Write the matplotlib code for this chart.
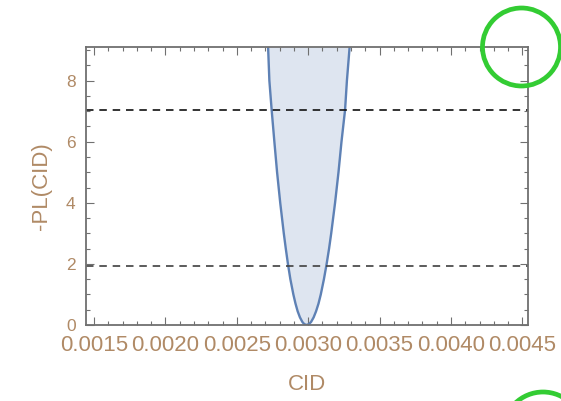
import matplotlib
matplotlib.use("Agg")
import matplotlib.pyplot as plt
from matplotlib.patches import Circle
from matplotlib.ticker import MultipleLocator, FixedLocator

# ---- data ----
cid = [0.002719, 0.002728, 0.002744, 0.002763, 0.002782, 0.002804, 0.002829,
       0.002843, 0.002858, 0.002875, 0.002896, 0.002911, 0.002926, 0.002942,
       0.002959, 0.002972, 0.002988,
       0.003005, 0.003020, 0.003038, 0.003055, 0.003072, 0.003088, 0.003110,
       0.003129, 0.003146, 0.003161, 0.003188, 0.003212, 0.003233, 0.003258,
       0.003271, 0.003290]
neg_pl = [9.10, 8.00, 7.04, 6.00, 5.00, 4.00, 3.00,
          2.50, 2.00, 1.50, 1.00, 0.70, 0.45, 0.25,
          0.10, 0.03, 0.00,
          0.03, 0.10, 0.25, 0.45, 0.70, 1.00, 1.50,
          2.00, 2.50, 3.00, 4.00, 5.00, 6.00, 7.04,
          8.00, 9.10]
threshold_levels = [1.92, 7.04]
x_ticks = [0.0015, 0.0020, 0.0025, 0.0030, 0.0035, 0.0040, 0.0045]
x_tick_labels = ["0.0015", "0.0020", "0.0025", "0.0030", "0.0035", "0.0040", "0.0045"]
y_ticks = [0, 2, 4, 6, 8]
x_label = "CID"
y_label = "-PL(CID)"

# ---- style ----
plt.rcParams['font.family'] = ['Liberation Sans', 'DejaVu Sans']
line_color = '#5E81B5'
text_color = '#b08a66'
frame_color = '#707070'

W, H = 561, 401
fig = plt.figure(figsize=(W / 100, H / 100), dpi=100)
L, R, T, B = 86, 528, 47, 325
ax = fig.add_axes([L / W, 1 - B / H, (R - L) / W, (B - T) / H])

ax.set_xlim(0.001444, 0.004539)
ax.set_ylim(0, 9.1)

top = ax.get_ylim()[1]
ax.fill_between(cid, neg_pl, top, color=line_color, alpha=0.2, linewidth=0)
ax.plot(cid, neg_pl, color=line_color, lw=1.7, solid_joinstyle='round')
for lev, col in zip(threshold_levels, ['#404040', '#111111']):
    ax.axhline(lev, color=col, lw=1.2, ls=(0, (4.5, 3.5)))

ax.xaxis.set_major_locator(FixedLocator(x_ticks))
ax.set_xticklabels(x_tick_labels)
ax.xaxis.set_minor_locator(MultipleLocator(0.0001))
ax.yaxis.set_major_locator(FixedLocator(y_ticks))
ax.yaxis.set_minor_locator(MultipleLocator(0.5))

ax.tick_params(which='both', direction='in', top=True, right=True,
               color=frame_color, width=0.8)
ax.tick_params(which='major', length=5.5)
ax.tick_params(which='minor', length=3.2)
ax.tick_params(axis='x', which='major', labelsize=16, labelcolor=text_color, pad=7)
ax.tick_params(axis='y', which='major', labelsize=12.5, labelcolor=text_color, pad=7.5)

for s in ax.spines.values():
    s.set_color(frame_color)
    s.set_linewidth(1.3)

ax.set_xlabel(x_label, fontsize=16, color=text_color, labelpad=13)
ax.set_ylabel(y_label, fontsize=16, color=text_color, labelpad=10)

# overlay annotation circles (green) in pixel coordinates
ov = fig.add_axes([0, 0, 1, 1], facecolor='none')
ov.set_xlim(0, W)
ov.set_ylim(H, 0)
ov.axis('off')
ov.add_patch(Circle((521.5, 47), 39, fill=False, edgecolor='#33cc33', lw=3.4))
ov.add_patch(Circle((543, 432), 40, fill=False, edgecolor='#33cc33', lw=3.4, clip_on=False))

fig.savefig("out.png", dpi=100)
